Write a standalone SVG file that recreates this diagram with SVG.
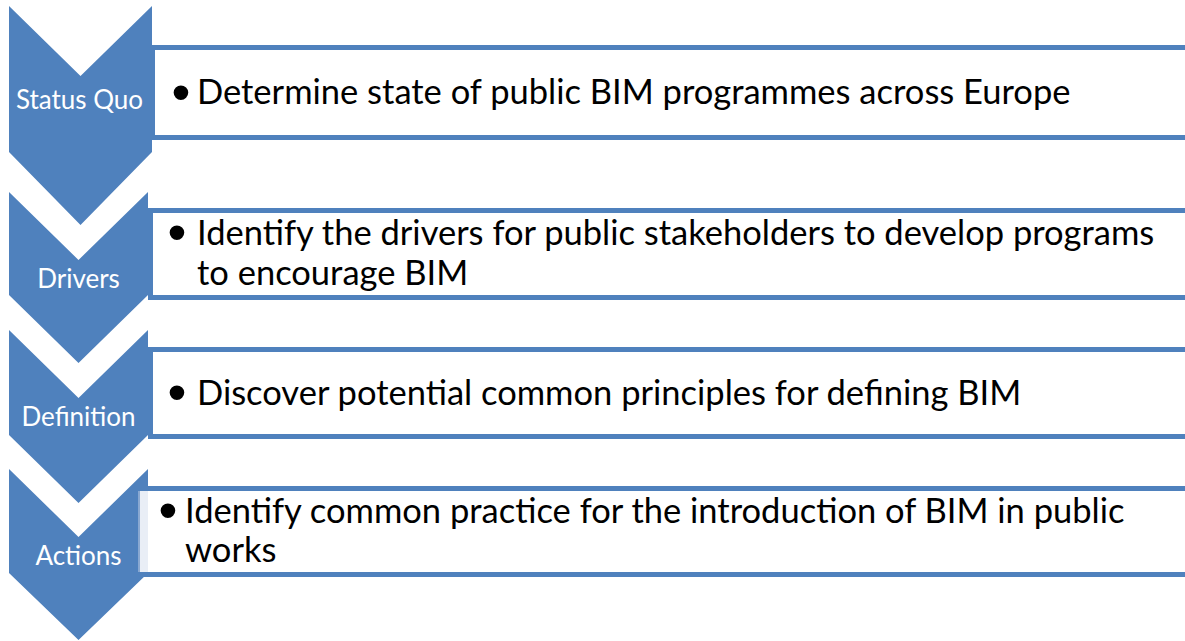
<svg xmlns="http://www.w3.org/2000/svg" width="1185" height="641" viewBox="0 0 1185 641">
<style>
.chev{fill:#4F81BD;}
.box{fill:#FFFFFF;stroke:#4F81BD;stroke-width:5;}
.lbl{font-family:"Lato","Liberation Sans",sans-serif;font-size:26px;fill:#FFFFFF;text-anchor:middle;}
.txt{font-family:"Lato","Liberation Sans",sans-serif;font-size:34.5px;fill:#000000;}
.bul{font-family:"Liberation Sans",sans-serif;font-size:54px;fill:#000000;text-anchor:middle;}
</style>
<rect width="1185" height="641" fill="#FFFFFF"/>
<g id="step1">
<polygon class="chev" points="9,6 80.5,76 152,6 152,152 80.5,225 9,152"/>
<rect class="box" x="152.5" y="47.5" width="1040" height="90"/>
<text class="lbl" x="79.5" y="109">Status Quo</text>
<text class="bul" x="181" y="111">•</text>
<text class="txt" x="197" y="104">Determine state of public BIM programmes across Europe</text>
</g>
<g id="step2">
<polygon class="chev" points="9,192 78.5,260 148,192 148,295 78.5,363 9,295"/>
<rect class="box" x="150.5" y="210.5" width="1040" height="87"/>
<text class="lbl" x="78.5" y="288">Drivers</text>
<text class="bul" x="177" y="251">•</text>
<text class="txt" x="197" y="245">Identify the drivers for public stakeholders to develop programs</text>
<text class="txt" x="197" y="285">to encourage BIM</text>
</g>
<g id="step3">
<polygon class="chev" points="9,330 78.5,398 148,330 148,435 78.5,503 9,435"/>
<rect class="box" x="150.5" y="349.5" width="1040" height="87"/>
<text class="lbl" x="78.5" y="426">Definition</text>
<text class="bul" x="177" y="411">•</text>
<text class="txt" x="197" y="405">Discover potential common principles for defining BIM</text>
</g>
<g id="step4">
<polygon class="chev" points="9,469 78.5,537 148,469 148,573 78.5,640 9,573"/>
<rect x="140" y="488" width="1050" height="87" fill="#FFFFFF"/>
<rect x="140" y="488" width="8" height="87" fill="#E9EEF6"/>
<line x1="139" y1="486" x2="139" y2="577" stroke="#9DB6D8" stroke-width="1.5"/>
<line x1="138" y1="488.5" x2="1190" y2="488.5" stroke="#4F81BD" stroke-width="5"/>
<line x1="138" y1="574.5" x2="1190" y2="574.5" stroke="#4F81BD" stroke-width="5"/>
<text class="lbl" x="78.5" y="565">Actions</text>
<text class="bul" x="168" y="529">•</text>
<text class="txt" x="185" y="523">Identify common practice for the introduction of BIM in public</text>
<text class="txt" x="185" y="562">works</text>
</g>
<g id="connectors"/>
</svg>
